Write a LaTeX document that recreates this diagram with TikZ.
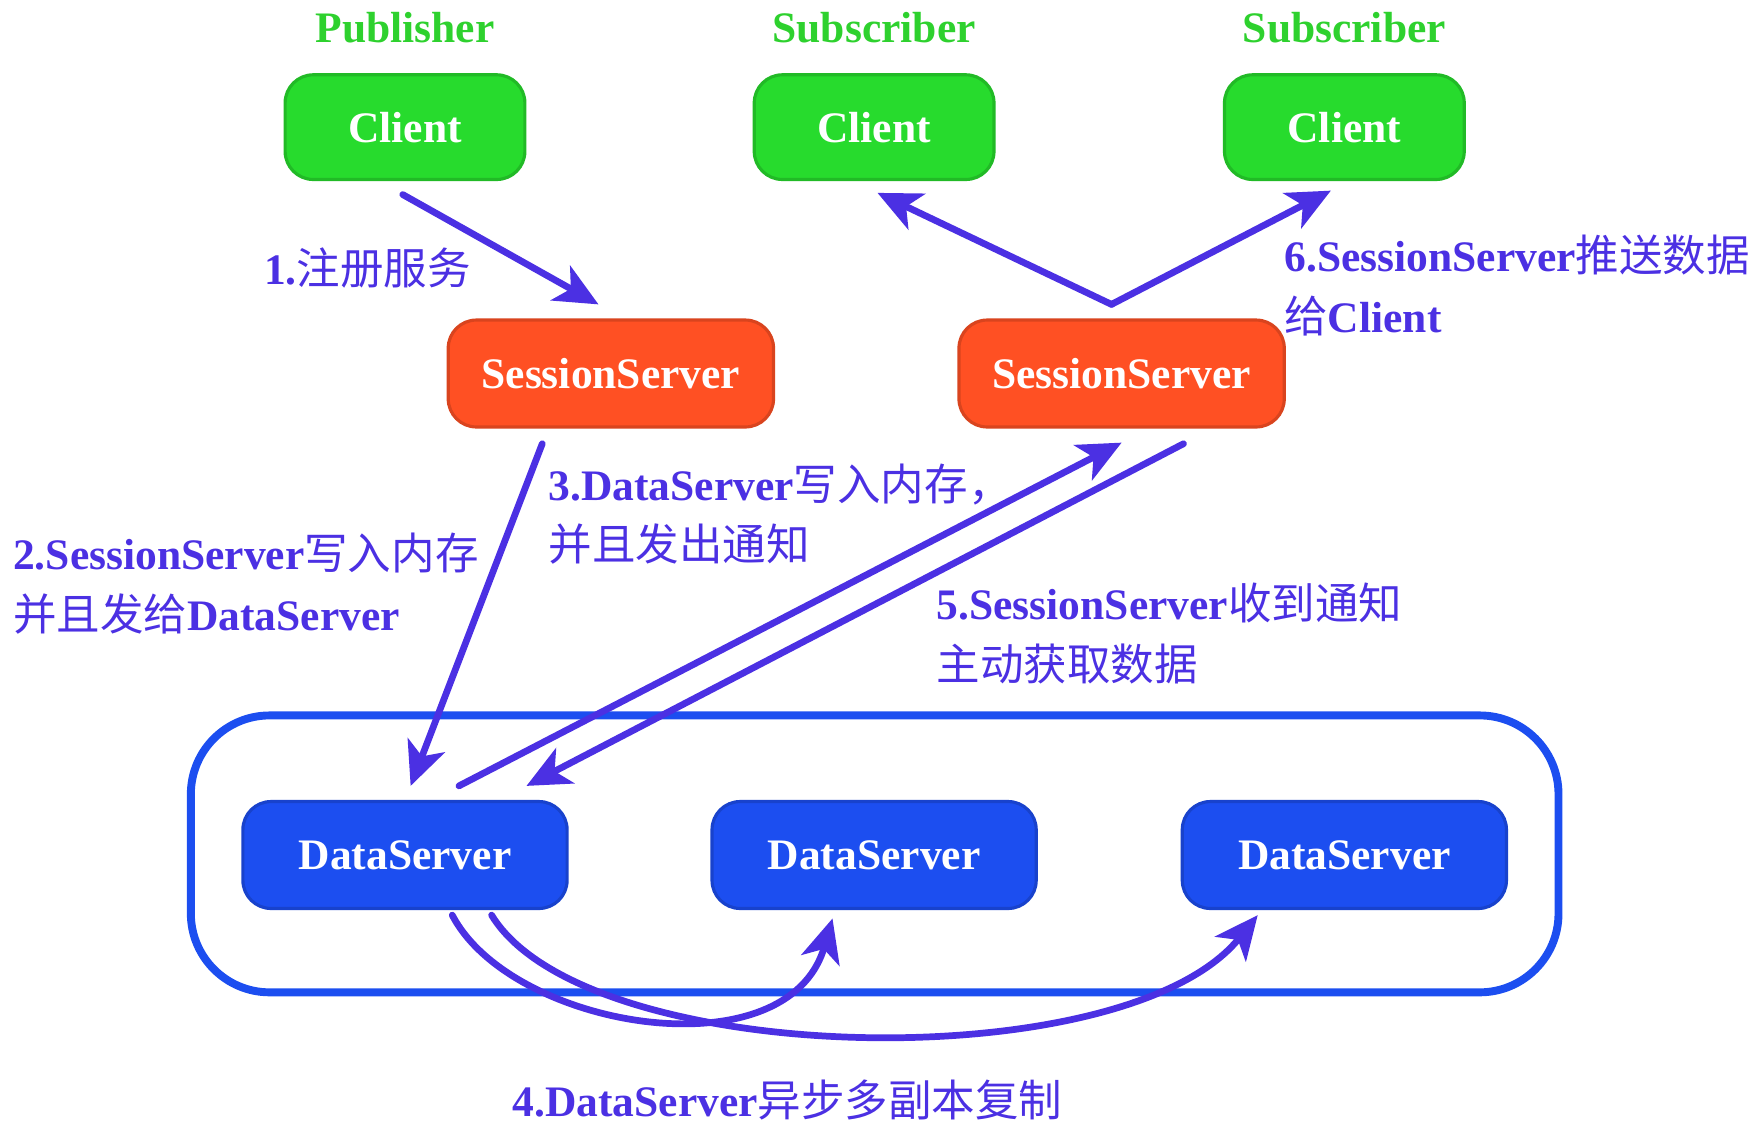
\documentclass[tikz,border=0pt]{standalone}
\usepackage{fontspec}
\setmainfont{Liberation Serif}
\newfontfamily\cjk{Noto Sans CJK SC}
\usetikzlibrary{arrows.meta}
\newcommand\zhtxt[1]{{\cjk\mdseries #1}}
\definecolor{cgreen}{HTML}{27DB2D}
\definecolor{cgreentxt}{HTML}{2ED12E}
\definecolor{corange}{HTML}{FF5023}
\definecolor{cblue}{HTML}{1C4EF0}
\definecolor{cpurple}{HTML}{4B30E3}
\tikzset{
  base/.style={font=\fontsize{11}{15.4}\selectfont\bfseries},
  roletext/.style={base, text=cgreentxt, inner sep=0pt},
  box/.style={base, text=white, rounded corners=0.25cm, inner sep=0pt, line width=0.8pt},
  clientbox/.style={box, fill=cgreen, draw=cgreen!85!black, minimum width=2.13cm, minimum height=0.93cm},
  sessbox/.style={box, fill=corange, draw=corange!85!black, minimum width=2.89cm, minimum height=0.95cm},
  databox/.style={box, fill=cblue, draw=cblue!85!black, minimum width=2.88cm, minimum height=0.95cm},
  groupbox/.style={draw=cblue, line width=2pt, rounded corners=0.7cm, minimum width=12.15cm, minimum height=2.46cm, inner sep=0pt},
  arr/.style={draw=cpurple, line width=1.7pt, line cap=round, -{Stealth[length=11pt,width=10pt,inset=3pt]}},
  lbl/.style={base, text=cpurple, inner sep=0pt, align=left}
}
\begin{document}
\begin{tikzpicture}[x=0.01cm, y=-0.01cm]
\useasboundingbox (0,0) rectangle (1568,1008);

% role titles
\node[roletext] (pub) at (360,25) {Publisher};
\node[roletext] (sub1) at (777,25) {Subscriber};
\node[roletext] (sub2) at (1195,25) {Subscriber};

% clients
\node[clientbox] (c1) at (360,113) {Client};
\node[clientbox] (c2) at (777,113) {Client};
\node[clientbox] (c3) at (1195,113) {Client};

% session servers
\node[sessbox] (s1) at (543,332) {SessionServer};
\node[sessbox] (s2) at (997,332) {SessionServer};

% data server group
\node[groupbox] (grp) at (777.5,759) {};
\node[databox] (d1) at (360,760) {DataServer};
\node[databox] (d2) at (777,760) {DataServer};
\node[databox] (d3) at (1195,760) {DataServer};

% 1
\draw[arr] ([shift={(-2,12)}]c1.south) -- ([shift={(-11,-12.5)}]s1.north);
% 2
\draw[arr] ([shift={(-61,13.5)}]s1.south) -- ([shift={(5,-12.5)}]d1.north);
% 3
\draw[arr] ([shift={(48,-12.5)}]d1.north) -- ([shift={(0,12.5)}]s2.south);
% 5
\draw[arr] ([shift={(55,13.5)}]s2.south) -- ([shift={(108,-12.5)}]d1.north);
% 6
\coordinate (apex) at ([shift={(-9,-12.5)}]s2.north);
\draw[arr] (apex) -- ([shift={(3,10.5)}]c2.south);
\draw[arr] (apex) -- ([shift={(-12,8.5)}]c3.south);
% 4
\draw[arr] ([shift={(42,4.5)}]d1.south) .. controls (455,915) and (700,955) .. ([shift={(-37,7.5)}]d2.south);
\draw[arr] ([shift={(77,4.5)}]d1.south) .. controls (520,950) and (1000,960) .. ([shift={(-77,4.5)}]d3.south);

% labels
\node[lbl, anchor=west] (l1) at (234,238) {1.\zhtxt{注册服务}};
\node[lbl, anchor=west] (l2) at (11,519) {2.SessionServer\zhtxt{写入内存}\\\zhtxt{并且发给}DataServer};
\node[lbl, anchor=west] (l3) at (487,457) {3.DataServer\zhtxt{写入内存，}\\\zhtxt{并且发出通知}};
\node[lbl, anchor=west] (l5) at (832,563) {5.SessionServer\zhtxt{收到通知}\\\zhtxt{主动获取数据}};
\node[lbl, anchor=west] (l6) at (1141,254) {6.SessionServer\zhtxt{推送数据}\\\zhtxt{给}Client};
\node[lbl] (l4) at (700,978) {4.DataServer\zhtxt{异步多副本复制}};
\end{tikzpicture}
\end{document}
